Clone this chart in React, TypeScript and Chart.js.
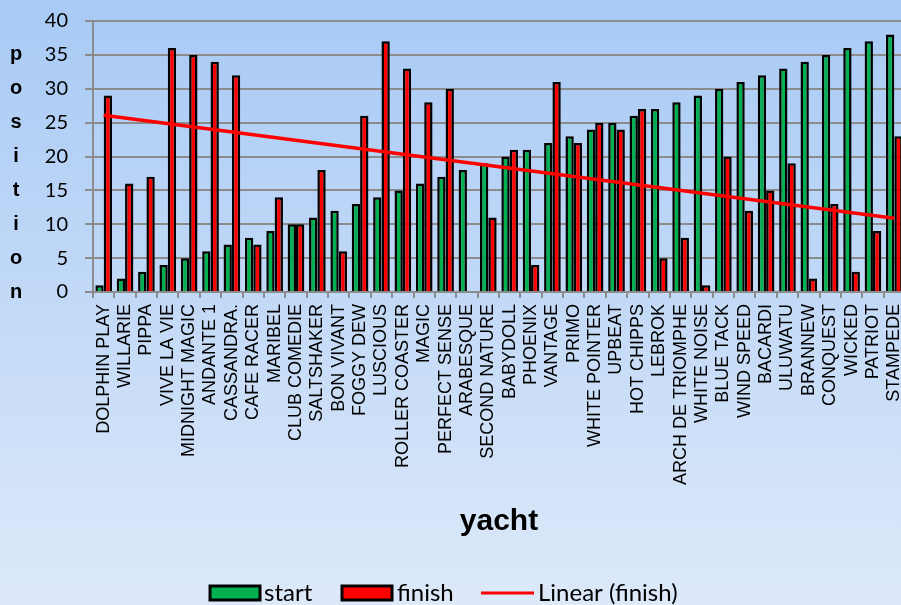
import React, { useEffect, useRef } from "react";
import { Chart, registerables } from "chart.js";

Chart.register(...registerables);

const yachts = [
  "DOLPHIN PLAY", "WILLARIE", "PIPPA", "VIVE LA VIE", "MIDNIGHT MAGIC", "ANDANTE 1",
  "CASSANDRA.", "CAFE RACER", "MARIBEL", "CLUB COMEDIE", "SALTSHAKER", "BON VIVANT",
  "FOGGY DEW", "LUSCIOUS", "ROLLER COASTER", "MAGIC", "PERFECT SENSE", "ARABESQUE",
  "SECOND NATURE", "BABYDOLL", "PHOENIX", "VANTAGE", "PRIMO", "WHITE POINTER",
  "UPBEAT", "HOT CHIPPS", "LEBROK", "ARCH DE TRIOMPHE", "WHITE NOISE", "BLUE TACK",
  "WIND SPEED", "BACARDI", "ULUWATU", "BRANNEW", "CONQUEST", "WICKED", "PATRIOT", "STAMPEDE",
];

const start = [
  1, 2, 3, 4, 5, 6, 7, 8, 9, 10, 11, 12, 13, 14, 15, 16, 17, 18, 19,
  20, 21, 22, 23, 24, 25, 26, 27, 28, 29, 30, 31, 32, 33, 34, 35, 36, 37, 38,
];

const finish: (number | null)[] = [
  29, 16, 17, 36, 35, 34, 32, 7, 14, 10, 18, 6, 26, 37, 33, 28, 30, null, 11,
  21, 4, 31, 22, 25, 24, 27, 5, 8, 1, 20, 12, 15, 19, 2, 13, 3, 9, 23,
];

// Linear trendline end values
const trendFirst = 26.1;
const trendLast = 10.9;

const yTicks = [0, 5, 10, 15, 20, 25, 30, 35, 40];
const yTitle = "position";
const xTitle = "yacht";
const legendLabels = ["start", "finish", "Linear (finish)"];

const W = 905;
const H = 605;
const GREEN = "#00b050";
const RED = "#ff0000";
const GRID = "#8c8c8c";

export default function App() {
  const ref = useRef<HTMLCanvasElement>(null);

  useEffect(() => {
    const canvas = ref.current!;
    const trend = yachts.map((_, i) =>
      i === 0 ? trendFirst : i === yachts.length - 1 ? trendLast : null
    );

    const bgPlugin = {
      id: "bg",
      beforeDraw(chart: any) {
        const ctx = chart.ctx;
        const g = ctx.createLinearGradient(0, 0, 0, chart.height);
        g.addColorStop(0, "#a8caf5");
        g.addColorStop(1, "#dde9f9");
        ctx.save();
        ctx.fillStyle = g;
        ctx.fillRect(0, 0, chart.width, chart.height);
        ctx.restore();
      },
    };

    const decoPlugin = {
      id: "deco",
      afterDraw(chart: any) {
        const ctx = chart.ctx;
        const y = chart.scales.y;
        ctx.save();
        ctx.fillStyle = "#000";
        // stacked vertical y title
        ctx.font = "bold 20px 'Liberation Sans', Arial, sans-serif";
        ctx.textAlign = "center";
        ctx.textBaseline = "middle";
        const letters = yTitle.split("");
        letters.forEach((ch, i) => {
          const v = 35 - i * 5;
          ctx.fillText(ch, 16, y.getPixelForValue(v));
        });
        // x title
        const ca = chart.chartArea;
        ctx.font = "bold 30px 'Liberation Sans', Arial, sans-serif";
        ctx.textBaseline = "alphabetic";
        ctx.fillText(xTitle, (ca.left + ca.right) / 2, 530);
        // legend
        ctx.font = "24px Lato, sans-serif";
        ctx.textAlign = "left";
        ctx.textBaseline = "middle";
        const ly = 593;
        ctx.lineWidth = 3;
        ctx.strokeStyle = "#000";
        ctx.fillStyle = GREEN;
        ctx.fillRect(210, 586, 50, 14);
        ctx.strokeRect(210, 586, 50, 14);
        ctx.fillStyle = "#000";
        ctx.fillText(legendLabels[0], 264, ly);
        ctx.fillStyle = RED;
        ctx.fillRect(342, 586, 50, 14);
        ctx.strokeRect(342, 586, 50, 14);
        ctx.fillStyle = "#000";
        ctx.fillText(legendLabels[1], 397, ly);
        ctx.strokeStyle = RED;
        ctx.beginPath();
        ctx.moveTo(481, ly);
        ctx.lineTo(534, ly);
        ctx.stroke();
        ctx.fillText(legendLabels[2], 538, ly);
        ctx.restore();
      },
    };

    const chart = new Chart(canvas, {
      data: {
        labels: yachts,
        datasets: [
          {
            type: "bar",
            label: "start",
            data: start,
            backgroundColor: GREEN,
            borderColor: "#000",
            borderWidth: 2.5,
            categoryPercentage: 0.78,
            barPercentage: 1,
            order: 2,
          },
          {
            type: "bar",
            label: "finish",
            data: finish,
            backgroundColor: RED,
            borderColor: "#000",
            borderWidth: 2.5,
            categoryPercentage: 0.78,
            barPercentage: 1,
            order: 2,
          },
          {
            type: "line",
            label: "Linear (finish)",
            data: trend,
            borderColor: RED,
            borderWidth: 3.5,
            pointRadius: 0,
            spanGaps: true,
            order: 1,
          },
        ],
      } as any,
      options: {
        responsive: false,
        animation: false,
        devicePixelRatio: 1,
        layout: { padding: { top: 21, left: 0, right: 0, bottom: 0 } },
        plugins: {
          legend: { display: false },
          tooltip: { enabled: false },
        },
        scales: {
          x: {
            offset: true,
            grid: {
              display: true,
              drawOnChartArea: false,
              drawTicks: true,
              tickLength: 6,
              color: GRID,
              lineWidth: 2,
              offset: true,
            },
            border: { display: true, color: GRID, width: 2 },
            ticks: {
              autoSkip: false,
              maxRotation: 90,
              minRotation: 90,
              padding: 6,
              color: "#000",
              font: { family: "'Liberation Sans', Arial, sans-serif", size: 18 },
            },
            afterFit(scale: any) {
              scale.height = H - 292;
              scale.paddingLeft = 0;
              scale.paddingRight = 0;
            },
          },
          y: {
            min: 0,
            max: 40,
            afterBuildTicks(scale: any) {
              scale.ticks = yTicks.map((v) => ({ value: v }));
            },
            grid: {
              color: GRID,
              lineWidth: 2,
              tickLength: 8,
              drawTicks: true,
            },
            border: { display: true, color: GRID, width: 2 },
            ticks: {
              padding: 17,
              color: "#000",
              font: { family: "Lato, sans-serif", size: 20 },
            },
            afterFit(scale: any) {
              scale.width = 93;
              scale.paddingTop = 0;
              scale.paddingBottom = 0;
            },
          },
        },
      },
      plugins: [bgPlugin, decoPlugin],
    });
    return () => chart.destroy();
  }, []);

  return (
    <canvas
      ref={ref}
      width={W}
      height={H}
      style={{ position: "fixed", left: 0, top: 0, width: W + "px", height: H + "px" }}
    />
  );
}
